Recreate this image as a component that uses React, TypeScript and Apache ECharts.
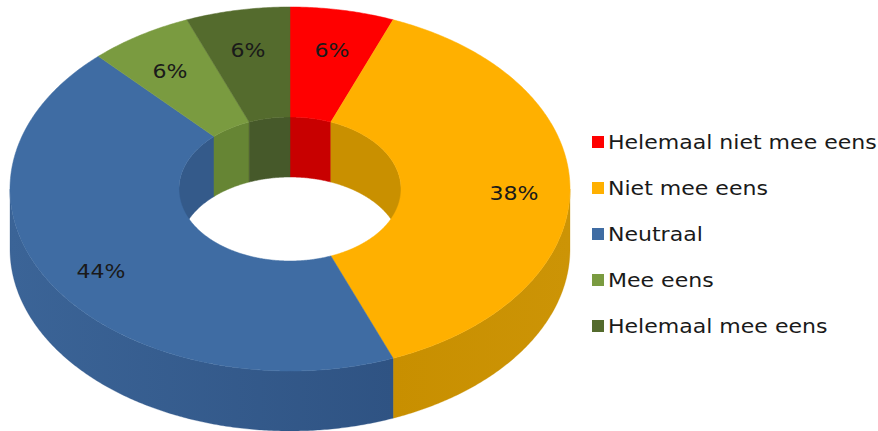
import React, { useEffect, useRef } from "react";
import * as echarts from "echarts";

const categories = ["Helemaal niet mee eens", "Niet mee eens", "Neutraal", "Mee eens", "Helemaal mee eens"];
const percents = [6, 38, 44, 6, 6];
const topColors = ["#ff0000", "#ffb000", "#3f6ca3", "#7a9b40", "#546b2d"];
const wallColors = ["#c80000", "#c99000", "#345a8a", "#668534", "#46592a"];
const rimColors = ["#c80000", "#cc9406", "#3b6497", "#668534", "#46592a"];
const rimEndColors = ["#c80000", "#c88f00", "#2f5383", "#668534", "#46592a"];

const CX = 290, CY = 189, RX = 280, RY = 182, IRX = 111, IRY = 72, DEPTH = 60;
const TEXT_STRETCH = 1.16;
const FONT = '19px "DejaVu Sans"';
const total = percents.reduce((a, b) => a + b, 0);

const pt = (deg: number, rx: number, ry: number, dy = 0) => {
  const a = (deg * Math.PI) / 180;
  return [CX + rx * Math.sin(a), CY - ry * Math.cos(a) + dy];
};
const arc = (from: number, to: number, rx: number, ry: number, dy = 0) => {
  const out: number[][] = [];
  const n = Math.max(2, Math.ceil(Math.abs(to - from) * 2));
  for (let i = 0; i <= n; i++) out.push(pt(from + ((to - from) * i) / n, rx, ry, dy));
  return out;
};
const band = (a: number[][], b: number[][]) => [...a, ...b.slice().reverse()];

const makeItem = (idx: number) => (_params: any, api: any) => {
  const before = percents.slice(0, idx).reduce((a, b) => a + b, 0);
  const start = (before / total) * 360;
  const end = start + (api.value(0) / total) * 360;
  const mid = (start + end) / 2;
  const children: any[] = [];
  const wall = wallColors[idx];
  for (const [lo, hi] of [[-90, 90], [270, 450]]) {
    const s = Math.max(start, lo), e = Math.min(end, hi);
    if (e > s) {
      children.push({
        type: "polygon", z2: 1,
        shape: { points: band(arc(s, e, IRX, IRY), arc(s, e, IRX, IRY, DEPTH)) },
        style: { fill: wall, stroke: wall, lineWidth: 0.5 },
      });
    }
  }
  const s = Math.max(start, 90), e = Math.min(end, 270);
  if (e > s) {
    const fill = {
      type: "linear", x: 0, y: 0, x2: 1, y2: 0,
      colorStops: idx === 2
        ? [{ offset: 0, color: rimColors[idx] }, { offset: 1, color: rimEndColors[idx] }]
        : [{ offset: 0, color: rimEndColors[idx] }, { offset: 1, color: rimColors[idx] }],
    };
    children.push({
      type: "polygon", z2: 2,
      shape: { points: band(arc(s, e, RX, RY), arc(s, e, RX, RY, DEPTH)) },
      style: { fill, stroke: wall, lineWidth: 0.3 },
    });
  }
  children.push({
    type: "polygon", z2: 3,
    shape: { points: band(arc(start, end, RX, RY), arc(start, end, IRX, IRY)) },
    style: { fill: topColors[idx], stroke: topColors[idx], lineWidth: 0.5 },
  });
  const [lx, ly] = pt(mid, RX * 0.8, RY * 0.8, 5);
  children.push({
    type: "text", z2: 4, x: lx, y: ly, scaleX: TEXT_STRETCH,
    style: {
      text: `${percents[idx]}%`, fill: "#1a1a1a", align: "center", verticalAlign: "middle",
      font: FONT,
    },
  });
  return { type: "group", children };
};

const LEGEND_TOP = 143, LEGEND_STEP = 46;

export default function App() {
  const ref = useRef<HTMLDivElement>(null);
  useEffect(() => {
    const chart = echarts.init(ref.current!, undefined, { renderer: "svg" });
    chart.setOption({
      animation: false,
      backgroundColor: "#ffffff",
      graphic: categories.flatMap((name, i) => [
        {
          type: "rect", x: 592, y: LEGEND_TOP + i * LEGEND_STEP - 7,
          shape: { x: 0, y: 0, width: 12, height: 12 },
          style: { fill: topColors[i] }, silent: true,
        },
        {
          type: "text", x: 608, y: LEGEND_TOP + i * LEGEND_STEP, scaleX: TEXT_STRETCH, silent: true,
          style: { text: name, fill: "#1a1a1a", font: FONT, align: "left", verticalAlign: "middle" },
        },
      ]),
      series: categories.map((name, i) => ({
        type: "custom", name, coordinateSystem: "none", silent: true,
        itemStyle: { color: topColors[i] },
        renderItem: makeItem(i),
        data: [percents[i]],
      })),
    });
    return () => chart.dispose();
  }, []);
  return <div ref={ref} style={{ position: "absolute", left: 0, top: 0, width: 878, height: 431 }} />;
}
